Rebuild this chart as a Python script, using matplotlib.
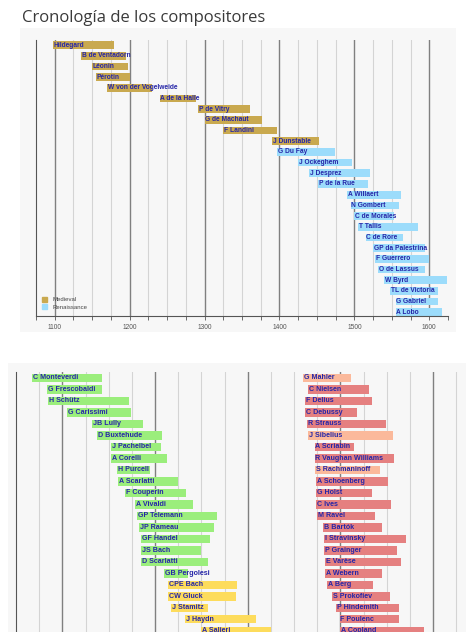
import matplotlib.pyplot as plt
from matplotlib.patches import Rectangle, Patch

# --- datos: parte superior (Medieval / Renacimiento) ---
top_names = ['Hildegard', 'B de Ventadorn', 'Léonin', 'Pérotin', 'W von der Vogelweide',
             'A de la Halle', 'P de Vitry', 'G de Machaut', 'F Landini', 'J Dunstable',
             'G Du Fay', 'J Ockeghem', 'J Desprez', 'P de la Rue', 'A Willaert',
             'N Gombert', 'C de Morales', 'T Tallis', 'C de Rore', 'GP da Palestrina',
             'F Guerrero', 'O de Lassus', 'W Byrd', 'TL de Victoria', 'G Gabriel', 'A Lobo']
top_start = [1098, 1135, 1150, 1155, 1170, 1240, 1291, 1300, 1325, 1390,
             1397, 1425, 1440, 1452, 1490, 1495, 1500, 1505, 1515, 1525,
             1528, 1532, 1540, 1548, 1555, 1555]
top_end = [1179, 1195, 1198, 1200, 1230, 1288, 1361, 1377, 1397, 1453,
           1474, 1497, 1521, 1518, 1562, 1560, 1553, 1585, 1565, 1594,
           1599, 1594, 1623, 1611, 1612, 1617]
top_era = ['Medieval'] * 10 + ['Renaissance'] * 16

# --- datos: parte inferior, columna izquierda (Barroco / Clásico) ---
left_names = ['C Monteverdi', 'G Frescobaldi', 'H Schütz', 'G Carissimi', 'JB Lully',
              'D Buxtehude', 'J Pachelbel', 'A Corelli', 'H Purcell', 'A Scarlatti',
              'F Couperin', 'A Vivaldi', 'GP Telemann', 'JP Rameau', 'GF Handel',
              'JS Bach', 'D Scarlatti', 'GB Pergolesi', 'CPE Bach', 'CW Gluck',
              'J Stamitz', 'J Haydn', 'A Salieri']
left_start = [1567, 1583, 1585, 1605, 1632, 1637, 1653, 1653, 1659, 1660,
              1668, 1678, 1681, 1683, 1685, 1685, 1685, 1710, 1714, 1714,
              1717, 1732, 1750]
left_end = [1643, 1643, 1672, 1674, 1687, 1707, 1706, 1713, 1695, 1725,
            1733, 1741, 1767, 1764, 1759, 1750, 1757, 1736, 1788, 1787,
            1757, 1809, 1825]
left_era = ['Baroque'] * 18 + ['Classical'] * 5

# --- datos: parte inferior, columna derecha (Romántico / Moderno) ---
right_names = ['G Mahler', 'C Nielsen', 'F Delius', 'C Debussy', 'R Strauss',
               'J Sibelius', 'A Scriabin', 'R Vaughan Williams', 'S Rachmaninoff',
               'A Schoenberg', 'G Holst', 'C Ives', 'M Ravel', 'B Bartók',
               'I Stravinsky', 'P Grainger', 'E Varèse', 'A Webern', 'A Berg',
               'S Prokofiev', 'P Hindemith', 'F Poulenc', 'A Copland']
right_start = [1860, 1865, 1862, 1862, 1864, 1865, 1872, 1872, 1873, 1874,
               1874, 1874, 1875, 1881, 1882, 1882, 1883, 1883, 1885, 1891,
               1895, 1899, 1900]
right_end = [1911, 1931, 1934, 1918, 1949, 1957, 1915, 1958, 1943, 1951,
             1934, 1954, 1937, 1945, 1971, 1961, 1965, 1945, 1935, 1953,
             1963, 1963, 1990]
right_era = ['Romantic', 'Modern', 'Modern', 'Modern', 'Modern', 'Romantic',
             'Modern', 'Modern', 'Romantic'] + ['Modern'] * 14

era_colors = {'Medieval': '#c9a94f', 'Renaissance': '#9cdcfb',
              'Baroque': '#9bee7c', 'Classical': '#fddc5c',
              'Romantic': '#fbb99b', 'Modern': '#e58080'}
text_color = '#2626a8'

plt.rcParams['font.family'] = ['Liberation Sans', 'DejaVu Sans']

fig = plt.figure(figsize=(4.74, 6.32), dpi=100)
W, H = 474, 632


def fig_rect(x0, y0, x1, y1):
    # pixel box (origen arriba-izquierda) -> coordenadas de figura
    return [x0 / W, 1 - y1 / H, (x1 - x0) / W, (y1 - y0) / H]


# fondos grises de los paneles
for box in [(20, 28, 456, 332), (8, 363, 466, 632)]:
    l, b, w, h = fig_rect(*box)
    fig.patches.append(Rectangle((l, b), w, h, transform=fig.transFigure,
                                 facecolor='#f7f7f7', edgecolor='none', zorder=-5))

fig.text(22 / W, 1 - 18 / H, 'Cronología de los compositores', family='Open Sans',
         fontsize=12, color='#3a3a3a', va='center', ha='left')


def draw_grid(ax, lo, hi):
    for yr in range(lo, hi + 1, 25):
        major = yr % 100 == 0
        ax.axvline(yr, color='#808080' if major else '#d4d4d4',
                   lw=1.0 if major else 0.8, zorder=1)


def draw_bars(ax, names, start, end, era, fs):
    for i, (n, s, e, r) in enumerate(zip(names, start, end, era)):
        ax.barh(i, e - s, left=s, height=0.72, color=era_colors[r], zorder=2)
        ax.text(s + 1, i, n, fontsize=fs, color=text_color, va='center',
                ha='left', weight='bold', zorder=3)


# --- panel superior ---
ax1 = fig.add_axes(fig_rect(36, 40, 448, 316))
ax1.set_facecolor('none')
ax1.set_xlim(1075, 1625)
ax1.set_ylim(25.35, -0.47)
draw_grid(ax1, 1100, 1600)
draw_bars(ax1, top_names, top_start, top_end, top_era, 4.8)
ax1.set_xticks(range(1100, 1601, 100))
ax1.set_xticks(range(1075, 1626, 25), minor=True)
ax1.tick_params(axis='x', which='both', length=3, width=0.6, color='#555555',
                labelsize=4.8, labelcolor='#555555', pad=3)
ax1.set_yticks([])
for sp in ['top', 'right']:
    ax1.spines[sp].set_visible(False)
ax1.spines['left'].set_color('#555555')
ax1.spines['bottom'].set_color('#555555')
ax1.legend(handles=[Patch(color=era_colors['Medieval'], label='Medieval'),
                    Patch(color=era_colors['Renaissance'], label='Renaissance')],
           loc='lower left', bbox_to_anchor=(0.0, 0.0), frameon=False,
           fontsize=4.3, handlelength=0.9, handleheight=0.9, handletextpad=0.8,
           labelspacing=0.4, borderaxespad=0.6, labelcolor='#444444')

# --- panel inferior ---
ax2 = fig.add_axes(fig_rect(16, 372, 461, 632))
ax2.set_facecolor('none')
ax2.set_xlim(1550, 2030)
ax2.set_ylim(22.1, -0.52)
draw_grid(ax2, 1575, 2025)
draw_bars(ax2, left_names, left_start, left_end, left_era, 5.1)
draw_bars(ax2, right_names, right_start, right_end, right_era, 5.1)
ax2.set_xticks([])
ax2.set_yticks([])
for sp in ['top', 'right', 'bottom']:
    ax2.spines[sp].set_visible(False)
ax2.spines['left'].set_color('#555555')

fig.savefig('out.png', dpi=100)
